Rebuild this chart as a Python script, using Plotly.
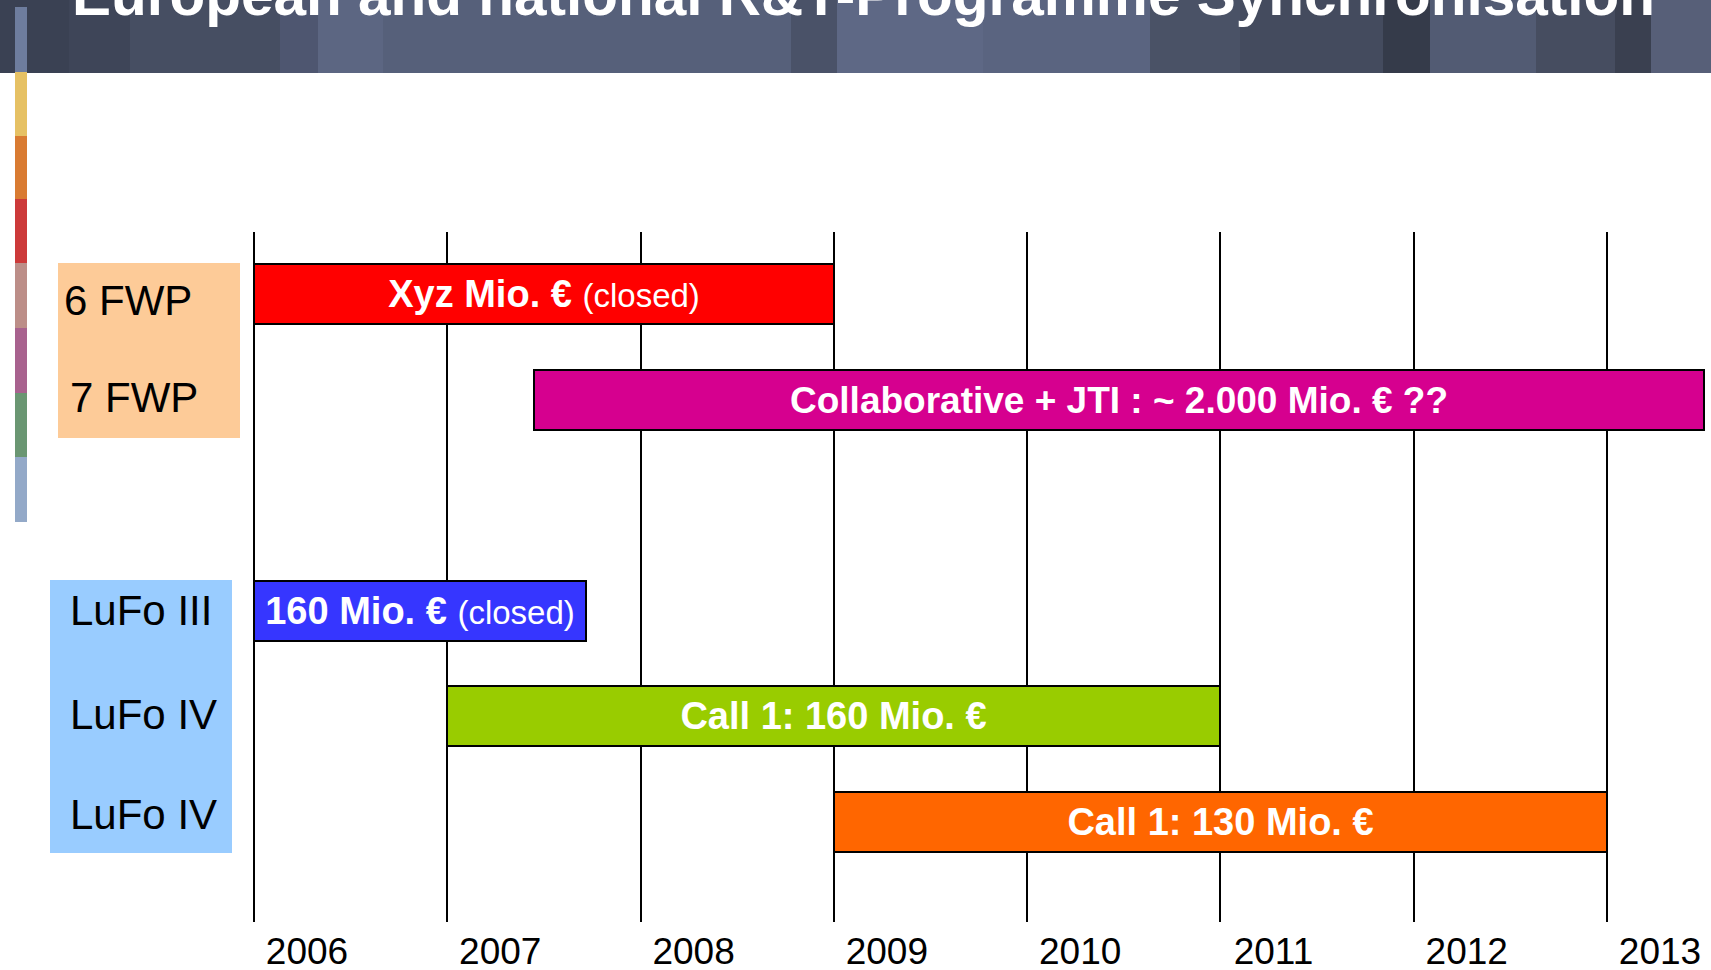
import plotly.graph_objects as go

# ---------------- data ----------------
programmes = ["6 FWP", "7 FWP", "LuFo III", "LuFo IV", "LuFo IV"]
rows = [0, 1, 3, 4, 5]
starts = [2006.0, 2007.45, 2006.0, 2007.0, 2009.0]
ends = [2009.0, 2013.5, 2007.72, 2011.0, 2013.0]
labels_bold = ["Xyz Mio. €", "Collaborative + JTI : ~ 2.000 Mio. € ??",
               "160 Mio. €", "Call 1: 160 Mio. €", "Call 1: 130 Mio. €"]
labels_note = ["(closed)", "", "(closed)", "", ""]
bar_colors = ["#FF0000", "#D6008F", "#3636FF", "#99CC00", "#FF6600"]
years = [2006, 2007, 2008, 2009, 2010, 2011, 2012, 2013]
title_text = "European and national R&T-Programme Synchronisation"

# ---------------- layout geometry ----------------
W, H = 1711, 970
TOP, BOTTOM = 232, 922
FONT = "Liberation Sans, Arial, Helvetica, sans-serif"


def px_x(p):
    return p / W


def px_y(p):
    return (BOTTOM - p) / (BOTTOM - TOP)


durations = [e - s for s, e in zip(starts, ends)]
texts = []
for b, n in zip(labels_bold, labels_note):
    t = "<b>" + b + "</b>"
    if n:
        t += " <span style='font-size:33px'>" + n + "</span>"
    texts.append(t)

fig = go.Figure()
fig.add_trace(go.Bar(
    y=rows, x=durations, base=starts, orientation="h", width=0.57,
    marker=dict(color=bar_colors, line=dict(color="black", width=2)),
    text=texts, textposition="inside", insidetextanchor="middle",
    textangle=0, constraintext="none",
    textfont=dict(family=FONT, size=[38, 37, 38, 38, 38], color="white"),
    hoverinfo="skip", showlegend=False,
))

shapes = []
# header band with slate stripes (decoration)
header_stripes = [
    (0, 69, "#3A4153"), (69, 130, "#3E4558"), (130, 280, "#464E62"),
    (280, 318, "#4E5670"), (318, 383, "#5C6682"), (383, 791, "#56607A"),
    (791, 837, "#4A5268"), (837, 983, "#5E6885"), (983, 1150, "#5A6480"),
    (1150, 1240, "#4A5266"), (1240, 1383, "#444B5E"), (1383, 1430, "#353B4A"),
    (1430, 1536, "#525B73"), (1536, 1615, "#464D60"), (1615, 1651, "#3A4050"),
    (1651, 1711, "#575F78"),
]
for x0, x1, c in header_stripes:
    shapes.append(dict(type="rect", xref="paper", yref="paper",
                       x0=px_x(x0), x1=px_x(x1), y0=px_y(73), y1=px_y(0),
                       fillcolor=c, line=dict(width=0), layer="below"))

# left coloured strip (decoration)
strip = [
    (7, 72, "#6E7D9E"), (72, 136, "#E6C164"), (136, 199, "#D97B32"),
    (199, 263, "#CC3A3A"), (263, 328, "#BC8E88"), (328, 393, "#A8628E"),
    (393, 457, "#6A9672"), (457, 522, "#93A9C8"),
]
for y0, y1, c in strip:
    shapes.append(dict(type="rect", xref="paper", yref="paper",
                       x0=px_x(15), x1=px_x(27), y0=px_y(y1), y1=px_y(y0),
                       fillcolor=c, line=dict(width=0), layer="above"))

# label boxes
shapes.append(dict(type="rect", xref="paper", yref="paper",
                   x0=px_x(58), x1=px_x(240), y0=px_y(438), y1=px_y(263),
                   fillcolor="#FDCB98", line=dict(width=0), layer="below"))
shapes.append(dict(type="rect", xref="paper", yref="paper",
                   x0=px_x(50), x1=px_x(232), y0=px_y(853), y1=px_y(580),
                   fillcolor="#99CCFF", line=dict(width=0), layer="below"))

annotations = []
label_x = [62, 68, 68, 68, 68]
label_shift = [-6, 2, 0, 2, 7]
for name, r, lx, sh in zip(programmes, rows, label_x, label_shift):
    annotations.append(dict(text=name, x=px_x(lx), xref="paper", y=r, yref="y",
                            xanchor="left", yanchor="middle", yshift=sh,
                            showarrow=False,
                            font=dict(family=FONT, size=42, color="black")))

annotations.append(dict(text="<b>" + title_text + "</b>", x=px_x(70), xref="paper",
                        y=px_y(-6), yref="paper", xanchor="left", yanchor="middle",
                        showarrow=False,
                        font=dict(family=FONT, size=58.5, color="white")))

fig.update_layout(
    width=W, height=H,
    margin=dict(l=0, r=0, t=TOP, b=H - BOTTOM, pad=0, autoexpand=False),
    plot_bgcolor="white", paper_bgcolor="white",
    shapes=shapes, annotations=annotations,
    bargap=0,
    xaxis=dict(range=[2004.686, 2013.538], tickvals=years,
               ticktext=[str(y) for y in years], showgrid=True,
               gridcolor="black", gridwidth=1.6, zeroline=False,
               showline=False, ticks="", ticklabelshift=53,
               ticklabelstandoff=4, automargin=False,
               tickfont=dict(family=FONT, size=37, color="black"),
               fixedrange=True),
    yaxis=dict(range=[5.95, -0.59], visible=False, fixedrange=True),
)

fig.write_html(
    "out.html",
    config={"displayModeBar": False},
    post_script="document.body.style.margin='0';document.body.style.overflow='hidden';",
)
